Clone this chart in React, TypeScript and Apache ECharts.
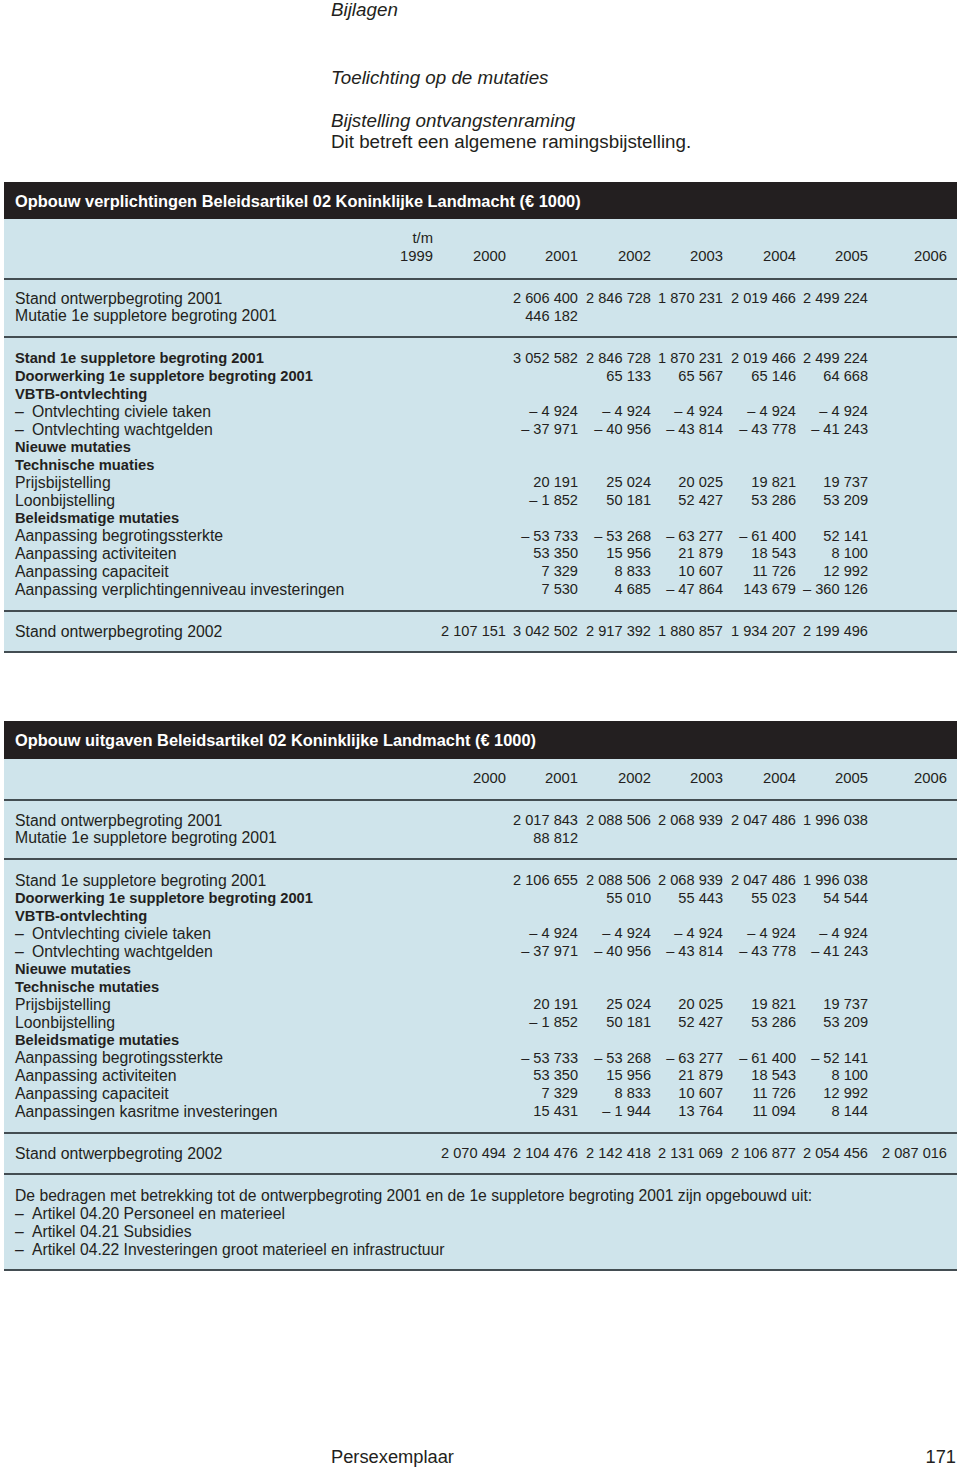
import React, { useEffect, useRef } from "react";
import * as echarts from "echarts";

// ---------- texts ----------
const PAGE_HEADER = "Bijlagen";
const SECTION_TITLE = "Toelichting op de mutaties";
const SUB_TITLE = "Bijstelling ontvangstenraming";
const SUB_TEXT = "Dit betreft een algemene ramingsbijstelling.";
const FOOTER_LEFT = "Persexemplaar";
const FOOTER_PAGE = "171";

// ---------- table 1 ----------
const T1_TITLE = "Opbouw verplichtingen Beleidsartikel 02 Koninklijke Landmacht (€ 1000)";
const T1_FIRST_PREFIX = "t/m";
const T1_YEARS = ["1999", "2000", "2001", "2002", "2003", "2004", "2005", "2006"];

const T1_STAND_ONTWERP_2001 = [null, null, 2606400, 2846728, 1870231, 2019466, 2499224, null];
const T1_MUTATIE_1E_SUPPL = [null, null, 446182, null, null, null, null, null];
const T1_STAND_1E_SUPPL = [null, null, 3052582, 2846728, 1870231, 2019466, 2499224, null];
const T1_DOORWERKING = [null, null, null, 65133, 65567, 65146, 64668, null];
const T1_CIVIELE_TAKEN = [null, null, -4924, -4924, -4924, -4924, -4924, null];
const T1_WACHTGELDEN = [null, null, -37971, -40956, -43814, -43778, -41243, null];
const T1_PRIJS = [null, null, 20191, 25024, 20025, 19821, 19737, null];
const T1_LOON = [null, null, -1852, 50181, 52427, 53286, 53209, null];
const T1_BEGROTINGSSTERKTE = [null, null, -53733, -53268, -63277, -61400, 52141, null];
const T1_ACTIVITEITEN = [null, null, 53350, 15956, 21879, 18543, 8100, null];
const T1_CAPACITEIT = [null, null, 7329, 8833, 10607, 11726, 12992, null];
const T1_VERPL_INVEST = [null, null, 7530, 4685, -47864, 143679, -360126, null];
const T1_STAND_ONTWERP_2002 = [null, 2107151, 3042502, 2917392, 1880857, 1934207, 2199496, null];

// ---------- table 2 ----------
const T2_TITLE = "Opbouw uitgaven Beleidsartikel 02 Koninklijke Landmacht (€ 1000)";
const T2_YEARS = ["2000", "2001", "2002", "2003", "2004", "2005", "2006"];

const T2_STAND_ONTWERP_2001 = [null, 2017843, 2088506, 2068939, 2047486, 1996038, null];
const T2_MUTATIE_1E_SUPPL = [null, 88812, null, null, null, null, null];
const T2_STAND_1E_SUPPL = [null, 2106655, 2088506, 2068939, 2047486, 1996038, null];
const T2_DOORWERKING = [null, null, 55010, 55443, 55023, 54544, null];
const T2_CIVIELE_TAKEN = [null, -4924, -4924, -4924, -4924, -4924, null];
const T2_WACHTGELDEN = [null, -37971, -40956, -43814, -43778, -41243, null];
const T2_PRIJS = [null, 20191, 25024, 20025, 19821, 19737, null];
const T2_LOON = [null, -1852, 50181, 52427, 53286, 53209, null];
const T2_BEGROTINGSSTERKTE = [null, -53733, -53268, -63277, -61400, -52141, null];
const T2_ACTIVITEITEN = [null, 53350, 15956, 21879, 18543, 8100, null];
const T2_CAPACITEIT = [null, 7329, 8833, 10607, 11726, 12992, null];
const T2_KASRITME = [null, 15431, -1944, 13764, 11094, 8144, null];
const T2_STAND_ONTWERP_2002 = [2070494, 2104476, 2142418, 2131069, 2106877, 2054456, 2087016];

const NOTE_INTRO = "De bedragen met betrekking tot de ontwerpbegroting 2001 en de 1e suppletore begroting 2001 zijn opgebouwd uit:";
const NOTE_ITEMS = [
  "Artikel 04.20 Personeel en materieel",
  "Artikel 04.21 Subsidies",
  "Artikel 04.22 Investeringen groot materieel en infrastructuur",
];

// rows: [label, values, kind]  kind: "n" normal, "b" bold, "d" dash item
type Row = [string, (number | null)[] | null, string];

const T1_BLOCK_A: Row[] = [
  ["Stand ontwerpbegroting 2001", T1_STAND_ONTWERP_2001, "n"],
  ["Mutatie 1e suppletore begroting 2001", T1_MUTATIE_1E_SUPPL, "n"],
];
const T1_BLOCK_B: Row[] = [
  ["Stand 1e suppletore begroting 2001", T1_STAND_1E_SUPPL, "b"],
  ["Doorwerking 1e suppletore begroting 2001", T1_DOORWERKING, "b"],
  ["VBTB-ontvlechting", null, "b"],
  ["Ontvlechting civiele taken", T1_CIVIELE_TAKEN, "d"],
  ["Ontvlechting wachtgelden", T1_WACHTGELDEN, "d"],
  ["Nieuwe mutaties", null, "b"],
  ["Technische muaties", null, "b"],
  ["Prijsbijstelling", T1_PRIJS, "n"],
  ["Loonbijstelling", T1_LOON, "n"],
  ["Beleidsmatige mutaties", null, "b"],
  ["Aanpassing begrotingssterkte", T1_BEGROTINGSSTERKTE, "n"],
  ["Aanpassing activiteiten", T1_ACTIVITEITEN, "n"],
  ["Aanpassing capaciteit", T1_CAPACITEIT, "n"],
  ["Aanpassing verplichtingenniveau investeringen", T1_VERPL_INVEST, "n"],
];
const T1_BLOCK_C: Row[] = [["Stand ontwerpbegroting 2002", T1_STAND_ONTWERP_2002, "n"]];

const T2_BLOCK_A: Row[] = [
  ["Stand ontwerpbegroting 2001", T2_STAND_ONTWERP_2001, "n"],
  ["Mutatie 1e suppletore begroting 2001", T2_MUTATIE_1E_SUPPL, "n"],
];
const T2_BLOCK_B: Row[] = [
  ["Stand 1e suppletore begroting 2001", T2_STAND_1E_SUPPL, "n"],
  ["Doorwerking 1e suppletore begroting 2001", T2_DOORWERKING, "b"],
  ["VBTB-ontvlechting", null, "b"],
  ["Ontvlechting civiele taken", T2_CIVIELE_TAKEN, "d"],
  ["Ontvlechting wachtgelden", T2_WACHTGELDEN, "d"],
  ["Nieuwe mutaties", null, "b"],
  ["Technische mutaties", null, "b"],
  ["Prijsbijstelling", T2_PRIJS, "n"],
  ["Loonbijstelling", T2_LOON, "n"],
  ["Beleidsmatige mutaties", null, "b"],
  ["Aanpassing begrotingssterkte", T2_BEGROTINGSSTERKTE, "n"],
  ["Aanpassing activiteiten", T2_ACTIVITEITEN, "n"],
  ["Aanpassing capaciteit", T2_CAPACITEIT, "n"],
  ["Aanpassingen kasritme investeringen", T2_KASRITME, "n"],
];
const T2_BLOCK_C: Row[] = [["Stand ontwerpbegroting 2002", T2_STAND_ONTWERP_2002, "n"]];

// ---------- layout / style ----------
const W = 960;
const H = 1469;
const FF = '"Liberation Sans", Arial, Helvetica, sans-serif';
const TEXT = "#231f20";
const BAR = "#231f20";
const BLUE = "#cfe4eb";
const RULE = "#434d52";
const TL = 4;
const TR = 957;
const LABEL_X = 15;
const INDENT_X = 32;
const COLS1 = [433, 506, 578, 651, 723, 796, 868, 947];
const COLS2 = COLS1.slice(1);
const STEP = 17.77;

function fmt(v: number | null): string {
  if (v === null || v === undefined) return "";
  const s = Math.abs(v).toString().replace(/\B(?=(\d{3})+(?!\d))/g, " ");
  return v < 0 ? "– " + s : s;
}

function txt(text: string, x: number, y: number, font: string, align = "left", fill = TEXT) {
  return {
    type: "text",
    silent: true,
    style: { text, x, y, font, fill, textAlign: align, textVerticalAlign: "middle" },
  };
}
function rect(x: number, y: number, w: number, h: number, fill: string) {
  return { type: "rect", silent: true, shape: { x, y, width: w, height: h }, style: { fill } };
}

const F_LABEL = `15.8px ${FF}`;
const F_BOLD = `bold 14.7px ${FF}`;
const F_NUM = `14.6px ${FF}`;
const F_YEAR = `14.8px ${FF}`;
const F_TITLE = `bold 16.4px ${FF}`;
const F_PAGE_I = `italic 18.8px ${FF}`;
const F_PAGE = `18.8px ${FF}`;
const F_FOOT = `18.3px ${FF}`;
const F_NOTE = `15.7px ${FF}`;

function rowEls(rows: Row[], y0: number, cols: number[]) {
  const els: any[] = [];
  rows.forEach((r, i) => {
    const y = y0 + i * STEP;
    const [label, vals, kind] = r;
    if (kind === "d") {
      els.push(txt("–", LABEL_X, y, F_LABEL));
      els.push(txt(label, INDENT_X, y, F_LABEL));
    } else {
      els.push(txt(label, LABEL_X, y, kind === "b" ? F_BOLD : F_LABEL));
    }
    if (vals) {
      vals.forEach((v, c) => {
        if (v !== null) els.push(txt(fmt(v), cols[c], y, F_NUM, "right"));
      });
    }
  });
  return els;
}

function buildGraphic() {
  const g: any[] = [];
  // page texts
  g.push(txt(PAGE_HEADER, 331, 9, F_PAGE_I));
  g.push(txt(SECTION_TITLE, 331, 77, F_PAGE_I));
  g.push(txt(SUB_TITLE, 331, 120, F_PAGE_I));
  g.push(txt(SUB_TEXT, 331, 141, F_PAGE));

  // table 1
  g.push(rect(TL, 219, TR - TL, 434, BLUE));
  g.push(rect(TL, 182, TR - TL, 37, BAR));
  g.push(txt(T1_TITLE, LABEL_X, 201, F_TITLE, "left", "#ffffff"));
  g.push(txt(T1_FIRST_PREFIX, COLS1[0], 238, F_YEAR, "right"));
  T1_YEARS.forEach((y, i) => g.push(txt(y, COLS1[i], 256, F_YEAR, "right")));
  [278, 336, 610, 651].forEach((y) => g.push(rect(TL, y, TR - TL, 2, RULE)));
  g.push(...rowEls(T1_BLOCK_A, 298, COLS1));
  g.push(...rowEls(T1_BLOCK_B, 358, COLS1));
  g.push(...rowEls(T1_BLOCK_C, 631, COLS1));

  // table 2
  g.push(rect(TL, 759, TR - TL, 512, BLUE));
  g.push(rect(TL, 721, TR - TL, 38, BAR));
  g.push(txt(T2_TITLE, LABEL_X, 740, F_TITLE, "left", "#ffffff"));
  T2_YEARS.forEach((y, i) => g.push(txt(y, COLS2[i], 778, F_YEAR, "right")));
  [799, 858, 1132, 1173, 1269].forEach((y) => g.push(rect(TL, y, TR - TL, 2, RULE)));
  g.push(...rowEls(T2_BLOCK_A, 820, COLS2));
  g.push(...rowEls(T2_BLOCK_B, 880, COLS2));
  g.push(...rowEls(T2_BLOCK_C, 1153, COLS2));

  // notes
  g.push(txt(NOTE_INTRO, LABEL_X, 1195, F_NOTE));
  NOTE_ITEMS.forEach((t, i) => {
    const y = 1213 + i * 18;
    g.push(txt("–", LABEL_X, y, F_NOTE));
    g.push(txt(t, INDENT_X, y, F_NOTE));
  });

  // footer
  g.push(txt(FOOTER_LEFT, 331, 1456, F_FOOT));
  g.push(txt(FOOTER_PAGE, 956, 1456, F_FOOT, "right"));
  return g;
}

export default function App() {
  const ref = useRef<HTMLDivElement>(null);
  useEffect(() => {
    if (!ref.current) return;
    const chart = echarts.init(ref.current, undefined, { renderer: "svg", width: W, height: H });
    chart.setOption({
      animation: false,
      backgroundColor: "#ffffff",
      graphic: { elements: buildGraphic() },
    });
    return () => chart.dispose();
  }, []);
  return (
    <div
      ref={ref}
      style={{ position: "absolute", left: 0, top: 0, width: W, height: H, background: "#fff" }}
    />
  );
}
